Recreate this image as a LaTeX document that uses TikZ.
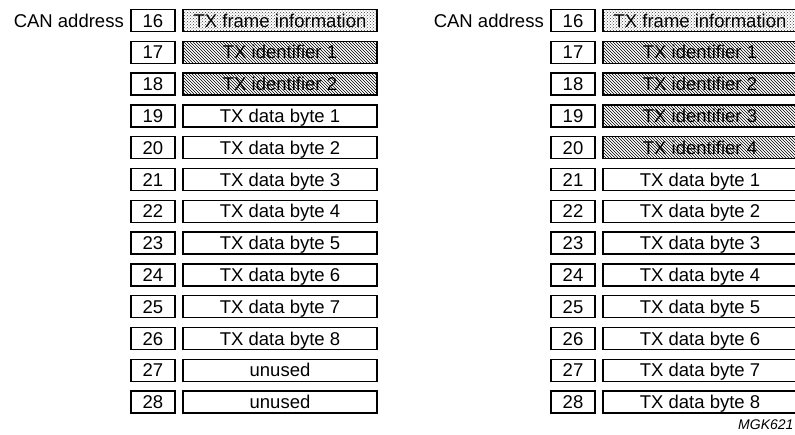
\documentclass[tikz,border=0pt]{standalone}
\usepackage{fontspec}
\setmainfont{Liberation Sans}
\usepackage{tikz}
\usetikzlibrary{patterns}

\tikzset{
  numbox/.style={draw, line width=1.5pt, minimum width=44pt, minimum height=22pt, inner sep=0pt,
    text height=13.2pt, text depth=0pt},
  databox/.style={numbox, minimum width=194pt},
  framebox/.style={databox, pattern=crosshatch dots, pattern color=black!75},
  idbox/.style={databox, pattern=north west lines, pattern color=black}
}

\begin{document}
\begin{tikzpicture}[x=1pt,y=-1pt,font=\fontsize{18.5}{20}\selectfont]
    \useasboundingbox (0,0) rectangle (795,434);

    % Titres des deux colonnes
    \node[anchor=east, inner sep=0pt, text height=13.2pt, text depth=0pt] (titleL) at (124,20.5) {CAN address};
    \node[anchor=east, inner sep=0pt, text height=13.2pt, text depth=0pt] (titleR) at (544,20.5) {CAN address};

    % Numéros d'adresse 16 à 28
    \foreach \n [count=\i from 0] in {16,...,28} {
        \node[numbox] (numL\n) at (153,20.5+31.8*\i) {\n};
        \node[numbox] (numR\n) at (573,20.5+31.8*\i) {\n};
    }

    % Colonne de gauche : trame standard
    \node[framebox] (dataL16) at (280,20.5) {TX frame information};
    \node[idbox] (dataL17) at (280,52.3) {TX identifier 1};
    \node[idbox] (dataL18) at (280,84.1) {TX identifier 2};
    \foreach \b [count=\i from 3] in {1,...,8}
        \node[databox] (dataLb\b) at (280,20.5+31.8*\i) {TX data byte \b};
    \node[databox] (dataL27) at (280,20.5+31.8*11) {unused};
    \node[databox] (dataL28) at (280,20.5+31.8*12) {unused};

    % Colonne de droite : trame étendue
    \node[framebox] (dataR16) at (700,20.5) {TX frame information};
    \foreach \k [count=\i from 1] in {1,...,4}
        \node[idbox] (dataRid\k) at (700,20.5+31.8*\i) {TX identifier \k};
    \foreach \b [count=\i from 5] in {1,...,8}
        \node[databox] (dataRb\b) at (700,20.5+31.8*\i) {TX data byte \b};

    % Référence de la figure
    \node[anchor=west, inner sep=0pt, font=\fontsize{14}{16}\selectfont\itshape] (ref) at (738,425) {MGK621};
\end{tikzpicture}
\end{document}
